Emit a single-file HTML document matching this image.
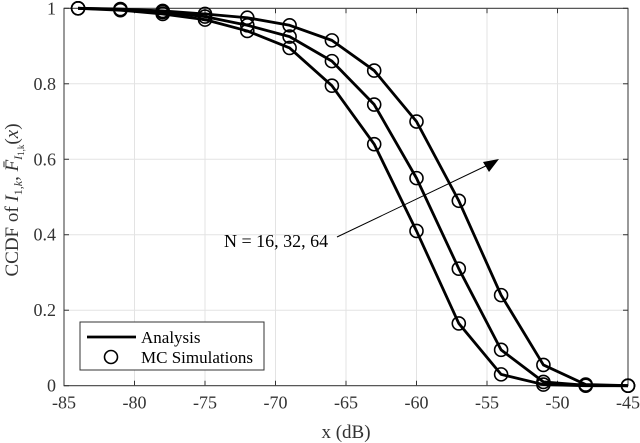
<!DOCTYPE html>
<html><head><meta charset="utf-8"><style>
body{margin:0;background:#fff}
svg{display:block;font-family:"Liberation Serif",serif}
</style></head><body>
<svg id="c" width="640" height="443"></svg>
<script>
const xTicks=[-85,-80,-75,-70,-65,-60,-55,-50,-45];
const yTicks=[0,0.2,0.4,0.6,0.8,1];
const yTickLabels=["0","0.2","0.4","0.6","0.8","1"];
const xs=[-84,-81,-78,-75,-72,-69,-66,-63,-60,-57,-54,-51,-48,-45];
const n16=[1,0.995,0.985,0.97,0.94,0.895,0.795,0.64,0.41,0.165,0.03,0.003,0,0];
const n32=[1,0.997,0.99,0.978,0.955,0.925,0.86,0.745,0.55,0.31,0.095,0.01,0.001,0];
const n64=[1,0.998,0.993,0.985,0.975,0.955,0.915,0.835,0.70,0.49,0.24,0.055,0.003,0];
const L=64,R=628,T=8.3,B=385.7;
const X=v=>L+(v+85)/40*(R-L);
const Y=v=>B-v*(B-T);
const svg=document.getElementById('c');
const NS='http://www.w3.org/2000/svg';
function mk(t,a,p){const e=document.createElementNS(NS,t);for(const k in a)e.setAttribute(k,a[k]);(p||svg).appendChild(e);return e;}
mk('rect',{x:L,y:T,width:R-L,height:B-T,fill:'#fff'});
xTicks.forEach(t=>{
 const g=mk('line',{x1:X(t),x2:X(t),y1:T,y2:B,stroke:'#e3e3e3','stroke-width':1});
 
 const tx=mk('text',{x:X(t),y:B+23,'text-anchor':'middle','font-size':18,fill:'#333'});tx.textContent=t;
 
 mk('line',{x1:X(t),x2:X(t),y1:B,y2:B-5,stroke:'#333'});mk('line',{x1:X(t),x2:X(t),y1:T,y2:T+5,stroke:'#333'});
});
yTicks.forEach((t,i)=>{
 const g=mk('line',{x1:L,x2:R,y1:Y(t),y2:Y(t),stroke:'#e3e3e3','stroke-width':1});
 
 const tx=mk('text',{x:L-8,y:Y(t)+6,'text-anchor':'end','font-size':18,fill:'#333'});tx.textContent=yTickLabels[i];
 
 mk('line',{x1:L,x2:L+5,y1:Y(t),y2:Y(t),stroke:'#333'});mk('line',{x1:R,x2:R-5,y1:Y(t),y2:Y(t),stroke:'#333'});
});
const fr=mk('rect',{x:L,y:T,width:R-L,height:B-T,fill:'none',stroke:'#333','stroke-width':1});

[['n16',n16],['n32',n32],['n64',n64]].forEach(([nm,d])=>{
 const p=mk('polyline',{points:xs.map((x,i)=>X(x)+','+Y(d[i])).join(' '),fill:'none',stroke:'#000','stroke-width':2.8,'stroke-linejoin':'round'});
 
 xs.forEach((x,i)=>{const c=mk('circle',{cx:X(x),cy:Y(d[i]),r:6.5,fill:'none',stroke:'#000','stroke-width':1.6});
  });
});
const ar=mk('line',{x1:337,y1:237,x2:492,y2:163,stroke:'#000','stroke-width':1});

mk('polygon',{points:'499,159 483,162 489,172',fill:'#000'});
const an=mk('text',{x:224,y:247,'font-size':18,fill:'#000'});an.textContent='N = 16, 32, 64';

const lg=mk('g',{});
mk('rect',{x:80,y:322,width:184,height:48,fill:'#fff',stroke:'#333'},lg);
mk('line',{x1:87,x2:136,y1:337,y2:337,stroke:'#000','stroke-width':2.8},lg);
const t1=mk('text',{x:141,y:343,'font-size':17},lg);t1.textContent='Analysis';

mk('circle',{cx:111,cy:357,r:6.5,fill:'none',stroke:'#000','stroke-width':1.6},lg);
const t2=mk('text',{x:141,y:363,'font-size':17},lg);t2.textContent='MC Simulations';

const xt=mk('text',{x:346,y:438,'text-anchor':'middle','font-size':19,fill:'#333'});xt.textContent='x (dB)';

const yt=mk('text',{x:0,y:0,'text-anchor':'middle','font-size':19,fill:'#333',transform:'translate(18,200) rotate(-90)'});
yt.innerHTML='CCDF of <tspan font-style="italic">I</tspan><tspan font-size="12" dy="4">1,<tspan font-style="italic">k</tspan></tspan><tspan dy="-4">, </tspan><tspan font-style="italic">F̄</tspan><tspan font-size="12" dy="4" font-style="italic">I</tspan><tspan font-size="9" dy="2">1,k</tspan><tspan dy="-6">(</tspan><tspan font-style="italic">x</tspan>)';

</script>
</body></html>
